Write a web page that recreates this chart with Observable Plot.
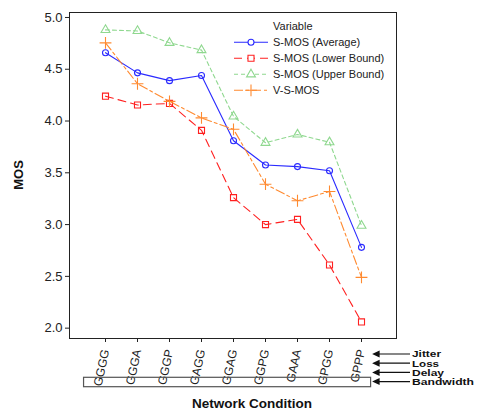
<!DOCTYPE html>
<html>
<head>
<meta charset="utf-8">
<script src="https://cdn.jsdelivr.net/npm/d3@7"></script>
<script src="https://cdn.jsdelivr.net/npm/@observablehq/plot@0.6"></script>
<style>
  html, body { margin: 0; padding: 0; background: #fff; }
  #chart { width: 477px; height: 412px; }
  svg { display: block; }
</style>
</head>
<body>
<div id="chart"></div>
<script>
const categories = ["GGGG","GGGA","GGGP","GAGG","GGAG","GGPG","GAAA","GPGG","GPPP"];
const sAverage = [4.66, 4.465, 4.39, 4.44, 3.81, 3.575, 3.56, 3.52, 2.78];
const sLower   = [4.24, 4.155, 4.17, 3.91, 3.26, 3.00, 3.05, 2.61, 2.06];
const sUpper   = [4.88, 4.87, 4.755, 4.685, 4.045, 3.79, 3.87, 3.795, 2.99];
const vsMos    = [4.755, 4.36, 4.19, 4.03, 3.92, 3.39, 3.23, 3.32, 2.49];
const seriesNames = ["S-MOS (Average)", "S-MOS (Lower Bound)", "S-MOS (Upper Bound)", "V-S-MOS"];
const seriesValues = [sAverage, sLower, sUpper, vsMos];
const seriesColors = ["#2a2aff", "#ff2020", "#8fd88f", "#ff8a30"];
const seriesDash = [null, "8,5", "4,3", "9,3,3,3"];
const seriesSymbols = ["circle", "square", "triangle", "plus"];
const seriesR = [3.0, 3.4, 3.3, 3.9];
const yTicks = [2.0, 2.5, 3.0, 3.5, 4.0, 4.5, 5.0];
const factorLabels = ["Jitter", "Loss", "Delay", "Bandwidth"];
const factorWidths = [29, 27, 32, 62];

const rows = [];
seriesNames.forEach((s, i) => categories.forEach((c, j) => rows.push({series: s, cat: c, v: seriesValues[i][j]})));

const marks = [Plot.frame({stroke: "#222"})];
seriesNames.forEach((s, i) => {
  const d = rows.filter(r => r.series === s);
  marks.push(Plot.line(d, {x: "cat", y: "v", stroke: seriesColors[i], strokeWidth: 1.1, strokeDasharray: seriesDash[i]}));
  marks.push(Plot.dot(d, {x: "cat", y: "v", stroke: seriesColors[i], fill: "none", symbol: seriesSymbols[i], r: seriesR[i], strokeWidth: 1.1}));
});
marks.push(Plot.axisY({ticks: yTicks, tickFormat: d3.format(".1f"), tickSize: 4, tickPadding: 3, fontSize: 13, label: null, stroke: "#222"}));
marks.push(Plot.axisX({tickRotate: -78, tickSize: 4, tickPadding: 7, fontSize: 12, label: null}));

const plot = Plot.plot({
  width: 477, height: 412,
  marginLeft: 69, marginRight: 81, marginTop: 12, marginBottom: 74,
  style: {fontFamily: "'Liberation Sans', Arial, sans-serif", color: "#222", background: "#fff"},
  x: {type: "point", domain: categories, padding: 1, label: null},
  y: {domain: [1.9, 5.048], label: null},
  marks
});
document.getElementById("chart").appendChild(plot);

const svg = d3.select(plot);
const xs = plot.scale("x");
const font = "'Liberation Sans', Arial, sans-serif";

// Axis titles
svg.append("text").attr("transform", "translate(23,175) rotate(-90)")
  .attr("text-anchor", "middle").attr("font-family", font).attr("font-weight", "bold")
  .attr("font-size", 13).attr("fill", "#111").text("MOS");
svg.append("text").attr("x", 252).attr("y", 408)
  .attr("text-anchor", "middle").attr("font-family", font).attr("font-weight", "bold")
  .attr("font-size", 13.5).attr("fill", "#111").text("Network Condition");

// Legend
const lg = svg.append("g").attr("font-family", font).attr("font-size", 11).attr("fill", "#222").attr("text-anchor", "start");
lg.append("text").attr("x", 273).attr("y", 29.5).text("Variable");
const symMap = {circle: d3.symbolCircle, square: d3.symbolSquare, triangle: d3.symbolTriangle, plus: d3.symbolPlus};
seriesNames.forEach((s, i) => {
  const y = 42.3 + i * 16;
  lg.append("line").attr("x1", 234).attr("x2", 268).attr("y1", y).attr("y2", y)
    .attr("stroke", seriesColors[i]).attr("stroke-width", 1.1).attr("stroke-dasharray", seriesDash[i]);
  const size = Math.PI * seriesR[i] * seriesR[i];
  lg.append("path").attr("transform", `translate(251,${y})`)
    .attr("d", d3.symbol(symMap[seriesSymbols[i]], size)())
    .attr("fill", "#fff").attr("stroke", seriesColors[i]).attr("stroke-width", 1.1);
  lg.append("text").attr("x", 273).attr("y", y + 4).text(s);
});

// Bandwidth box and factor arrows
const step = xs.apply(categories[1]) - xs.apply(categories[0]);
const bx0 = xs.apply(categories[0]) - 0.67 * step;
const bx1 = xs.apply(categories[categories.length - 1]) + 0.3 * step;
svg.append("rect").attr("x", bx0).attr("y", 377.3).attr("width", bx1 - bx0).attr("height", 9.4)
  .attr("fill", "none").attr("stroke", "#555").attr("stroke-width", 1.2);
const ag = svg.append("g").attr("text-anchor", "start");
factorLabels.forEach((t, i) => {
  const y = 354 + i * 9.2;
  ag.append("line").attr("x1", bx1 + 6).attr("x2", 410).attr("y1", y).attr("y2", y).attr("stroke", "#111").attr("stroke-width", 1.2);
  ag.append("path").attr("d", `M${bx1 + 1.5},${y} L${bx1 + 9},${y - 3.5} L${bx1 + 9},${y + 3.5} Z`).attr("fill", "#111");
  ag.append("text").attr("x", 412).attr("y", y + 3.3).attr("font-family", font).attr("font-weight", "bold")
    .attr("font-size", 9).attr("textLength", factorWidths[i]).attr("lengthAdjust", "spacingAndGlyphs")
    .attr("fill", "#111").text(t);
});
</script>
</body>
</html>
